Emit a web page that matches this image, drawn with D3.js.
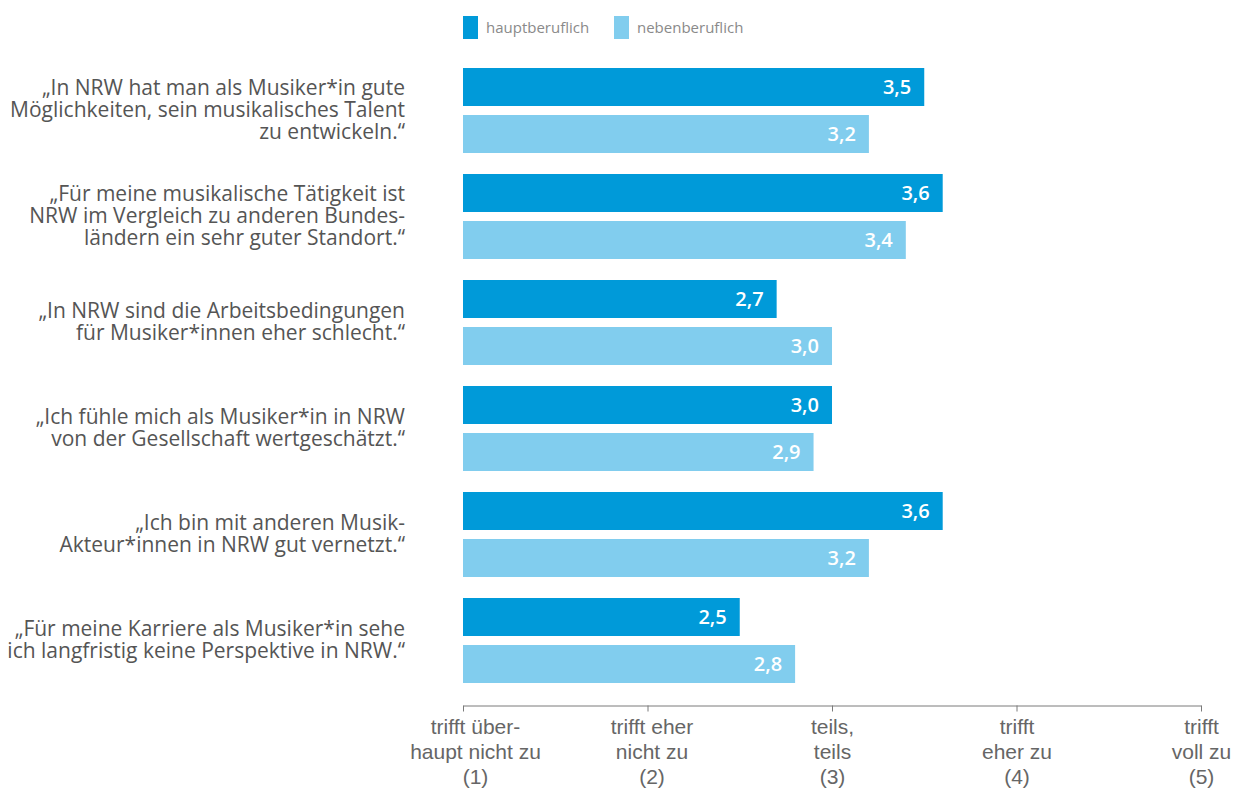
<!DOCTYPE html>
<html lang="de">
<head>
<meta charset="utf-8">
<script src="https://cdn.jsdelivr.net/npm/d3@7"></script>
<style>
  html, body { margin: 0; padding: 0; background: #fff; }
  svg { display: block; font-family: "Open Sans", sans-serif; }
</style>
</head>
<body>
<svg id="chart" width="1237" height="789"></svg>
<script>
// Aussagen (mehrzeilig)
const statements = [
  ["„In NRW hat man als Musiker*in gute", "Möglichkeiten, sein musikalisches Talent", "zu entwickeln.“"],
  ["„Für meine musikalische Tätigkeit ist", "NRW im Vergleich zu anderen Bundes-", "ländern ein sehr guter Standort.“"],
  ["„In NRW sind die Arbeitsbedingungen", "für Musiker*innen eher schlecht.“"],
  ["„Ich fühle mich als Musiker*in in NRW", "von der Gesellschaft wertgeschätzt.“"],
  ["„Ich bin mit anderen Musik-", "Akteur*innen in NRW gut vernetzt.“"],
  ["„Für meine Karriere als Musiker*in sehe", "ich langfristig keine Perspektive in NRW.“"]
];

const seriesNames = ["hauptberuflich", "nebenberuflich"];
const hauptberuflich = [3.5, 3.6, 2.7, 3.0, 3.6, 2.5];
const nebenberuflich = [3.2, 3.4, 3.0, 2.9, 3.2, 2.8];

const tickValues = [1, 2, 3, 4, 5];
const tickLabels = [
  ["trifft über-", "haupt nicht zu", "(1)"],
  ["trifft eher", "nicht zu", "(2)"],
  ["teils,", "teils", "(3)"],
  ["trifft", "eher zu", "(4)"],
  ["trifft", "voll zu", "(5)"]
];

const colors = ["#009ad9", "#81cdee"];

const svg = d3.select("#chart");

const x = d3.scaleLinear().domain([1, 5]).range([463, 1201]);

const y = d3.scaleBand()
  .domain(d3.range(statements.length))
  .range([68, 683])
  .paddingInner(21 / 106)
  .paddingOuter(0);

const ySub = d3.scaleBand()
  .domain(seriesNames)
  .range([0, y.bandwidth()])
  .paddingInner(9 / 47)
  .paddingOuter(0);

const rows = statements.map((s, i) => ({
  i,
  lines: s,
  values: [
    { series: seriesNames[0], value: hauptberuflich[i], color: colors[0] },
    { series: seriesNames[1], value: nebenberuflich[i], color: colors[1] }
  ]
}));

// Legende
const legend = svg.append("g").attr("class", "legend");
const legendX = [463, 614];
seriesNames.forEach((name, k) => {
  legend.append("rect")
    .attr("x", legendX[k]).attr("y", 16)
    .attr("width", 15).attr("height", 23)
    .attr("fill", colors[k]);
  legend.append("text")
    .attr("x", legendX[k] + 23).attr("y", 28)
    .attr("dy", "0.35em")
    .attr("font-size", 15)
    .attr("fill", "#8a8a8a")
    .text(name);
});

// Balkengruppen
const groups = svg.append("g").selectAll("g.row")
  .data(rows)
  .join("g")
  .attr("class", "row")
  .attr("transform", d => `translate(0,${y(d.i)})`);

groups.selectAll("rect")
  .data(d => d.values)
  .join("rect")
  .attr("x", x(1))
  .attr("y", d => ySub(d.series))
  .attr("width", d => x(d.value) - x(1))
  .attr("height", ySub.bandwidth())
  .attr("fill", d => d.color);

groups.selectAll("text.val")
  .data(d => d.values)
  .join("text")
  .attr("class", "val")
  .attr("x", d => x(d.value) - 13)
  .attr("y", d => ySub(d.series) + ySub.bandwidth() / 2)
  .attr("dy", "0.36em")
  .attr("text-anchor", "end")
  .attr("font-size", 20)
  .attr("font-weight", 600)
  .attr("fill", "#fff")
  .text(d => d3.format(".1f")(d.value).replace(".", ","));

// Aussagen-Beschriftung
const lineH = 22;
groups.append("text")
  .attr("class", "cat")
  .attr("text-anchor", "end")
  .attr("font-size", 21)
  .attr("fill", "#555")
  .each(function(d) {
    const t = d3.select(this);
    const mid = y.bandwidth() / 2 - 1;
    const start = mid - (d.lines.length - 1) * lineH / 2;
    d.lines.forEach((ln, j) => {
      t.append("tspan")
        .attr("x", 405)
        .attr("y", start + j * lineH)
        .attr("dy", "0.35em")
        .text(ln);
    });
  });

// x-Achse
const axis = d3.axisBottom(x)
  .tickValues(tickValues)
  .tickSize(6)
  .tickSizeOuter(0)
  .tickFormat(() => "");

const ax = svg.append("g")
  .attr("transform", "translate(0,705.5)")
  .call(axis);
ax.select(".domain").attr("stroke", "#7a7a7a");
ax.selectAll(".tick line").attr("stroke", "#7a7a7a");

ax.selectAll(".tick").each(function(v, k) {
  // die erste Beschriftung etwas nach rechts, damit sie nicht am Rand klebt
  const shift = k === 0 ? 12 : (k === 1 ? 4 : 0);
  const t = d3.select(this).append("text")
    .attr("text-anchor", "middle")
    .attr("font-size", 21)
    .attr("fill", "#666");
  tickLabels[k].forEach((ln, j) => {
    t.append("tspan")
      .attr("x", shift)
      .attr("y", 28 + j * 25)
      .text(ln);
  });
});
</script>
</body>
</html>
